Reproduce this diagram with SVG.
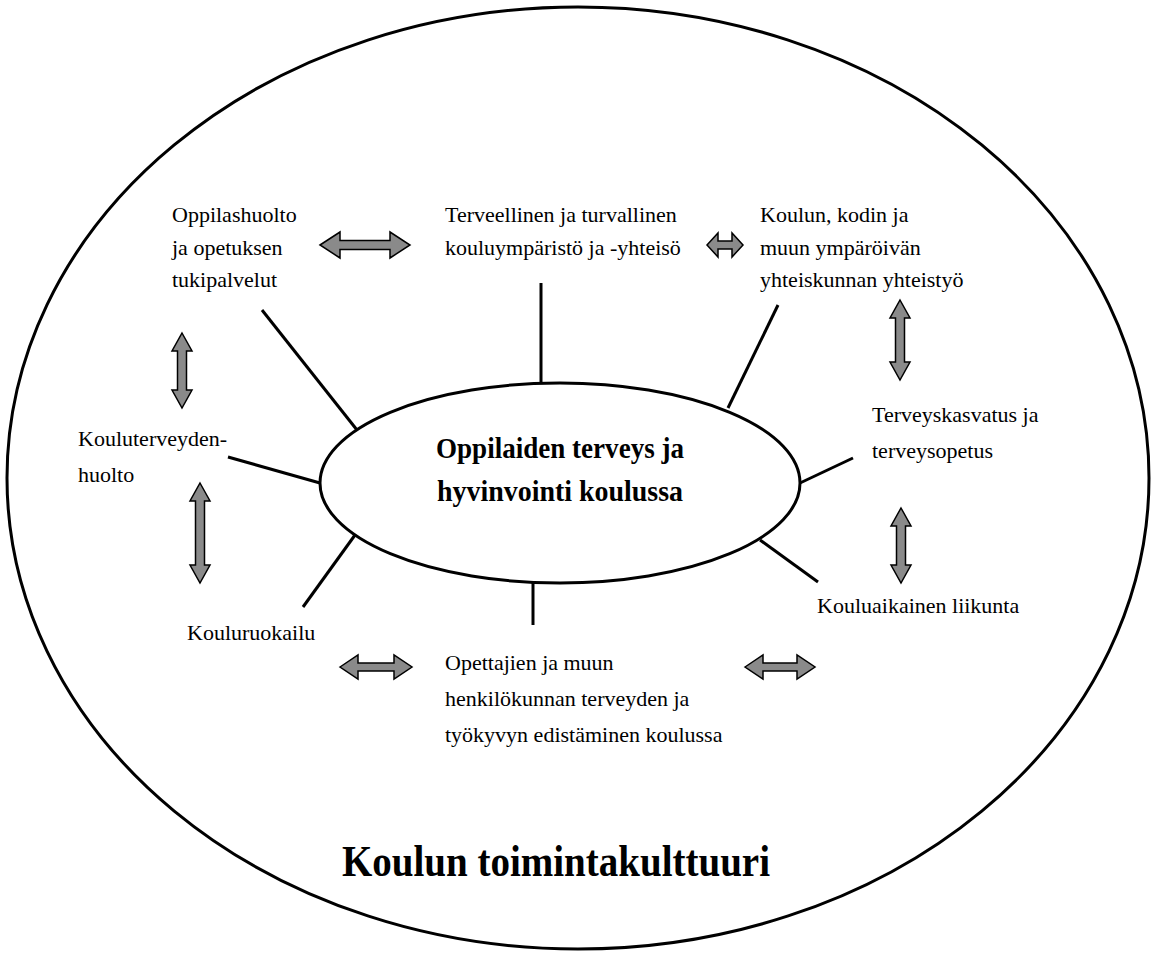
<svg xmlns="http://www.w3.org/2000/svg" width="1156" height="957" viewBox="0 0 1156 957">
<style>
.el{fill:#fff;stroke:#000;stroke-width:3}
.ln{stroke:#000;stroke-width:3;fill:none}
.ar{fill:#8a8a8a;stroke:#000;stroke-width:1.5;stroke-linejoin:miter}
.t{font-family:"Liberation Serif",serif;font-size:22px;fill:#000}
.c{font-family:"Liberation Serif",serif;font-size:30px;font-weight:bold;fill:#000}
.ti{font-family:"Liberation Serif",serif;font-size:44px;font-weight:bold;fill:#000}
</style>
<rect width="1156" height="957" fill="#fff"/>
<g id="outer">
<ellipse class="el" cx="578" cy="478" rx="571" ry="471"/>
<text class="ti" x="342" y="876" textLength="428" lengthAdjust="spacingAndGlyphs">Koulun toimintakulttuuri</text>
</g>
<g id="connectors">
<line class="ln" x1="541" y1="283" x2="541" y2="384"/>
<line class="ln" x1="778" y1="305" x2="728" y2="408"/>
<line class="ln" x1="262" y1="310" x2="357" y2="430"/>
<line class="ln" x1="228" y1="457" x2="320" y2="483"/>
<line class="ln" x1="355" y1="535" x2="303" y2="607"/>
<line class="ln" x1="533" y1="583" x2="533" y2="625"/>
<line class="ln" x1="800" y1="483" x2="853" y2="458"/>
<line class="ln" x1="760" y1="540" x2="818" y2="582"/>
<path class="ar" d="M320,245 L340,232 L340,240.5 L390,240.5 L390,232 L410,245 L390,258 L390,249.5 L340,249.5 L340,258 Z"/>
<path class="ar" d="M707,245 L718,233 L718,241 L732,241 L732,233 L743,245 L732,257 L732,249 L718,249 L718,257 Z"/>
<path class="ar" d="M340,667 L358,655 L358,663 L394,663 L394,655 L412,667 L394,679 L394,671 L358,671 L358,679 Z"/>
<path class="ar" d="M745,667 L763,655 L763,663 L797,663 L797,655 L815,667 L797,679 L797,671 L763,671 L763,679 Z"/>
<path class="ar" d="M182,333 L192,351 L186.5,351 L186.5,390 L192,390 L182,408 L172,390 L177.5,390 L177.5,351 L172,351 Z"/>
<path class="ar" d="M200,483 L210,501 L204.5,501 L204.5,565 L210,565 L200,583 L190,565 L195.5,565 L195.5,501 L190,501 Z"/>
<path class="ar" d="M900,300 L910,318 L904.5,318 L904.5,362 L910,362 L900,380 L890,362 L895.5,362 L895.5,318 L890,318 Z"/>
<path class="ar" d="M901,508 L911,526 L905.5,526 L905.5,565 L911,565 L901,583 L891,565 L896.5,565 L896.5,526 L891,526 Z"/>
</g>
<g id="center">
<ellipse class="el" cx="560" cy="483" rx="240" ry="100"/>
<text class="c" x="560" y="458" text-anchor="middle" textLength="248" lengthAdjust="spacingAndGlyphs">Oppilaiden terveys ja</text>
<text class="c" x="560" y="501" text-anchor="middle" textLength="246" lengthAdjust="spacingAndGlyphs">hyvinvointi koulussa</text>
</g>
<g id="oppilashuolto">
<text class="t" x="172" y="222">Oppilashuolto</text>
<text class="t" x="172" y="255">ja opetuksen</text>
<text class="t" x="172" y="287">tukipalvelut</text>
</g>
<g id="terveellinen">
<text class="t" x="445" y="222">Terveellinen ja turvallinen</text>
<text class="t" x="445" y="255">kouluympäristö ja -yhteisö</text>
</g>
<g id="yhteistyo">
<text class="t" x="760" y="222">Koulun, kodin ja</text>
<text class="t" x="760" y="255">muun ympäröivän</text>
<text class="t" x="760" y="287">yhteiskunnan yhteistyö</text>
</g>
<g id="kouluterveydenhuolto">
<text class="t" x="78" y="446">Kouluterveyden-</text>
<text class="t" x="78" y="482">huolto</text>
</g>
<g id="terveyskasvatus">
<text class="t" x="872" y="422">Terveyskasvatus ja</text>
<text class="t" x="872" y="458">terveysopetus</text>
</g>
<g id="liikunta">
<text class="t" x="817" y="613">Kouluaikainen liikunta</text>
</g>
<g id="ruokailu">
<text class="t" x="187" y="640">Kouluruokailu</text>
</g>
<g id="henkilokunta">
<text class="t" x="445" y="670">Opettajien ja muun</text>
<text class="t" x="445" y="706">henkilökunnan terveyden ja</text>
<text class="t" x="445" y="742">työkyvyn edistäminen koulussa</text>
</g>
</svg>
